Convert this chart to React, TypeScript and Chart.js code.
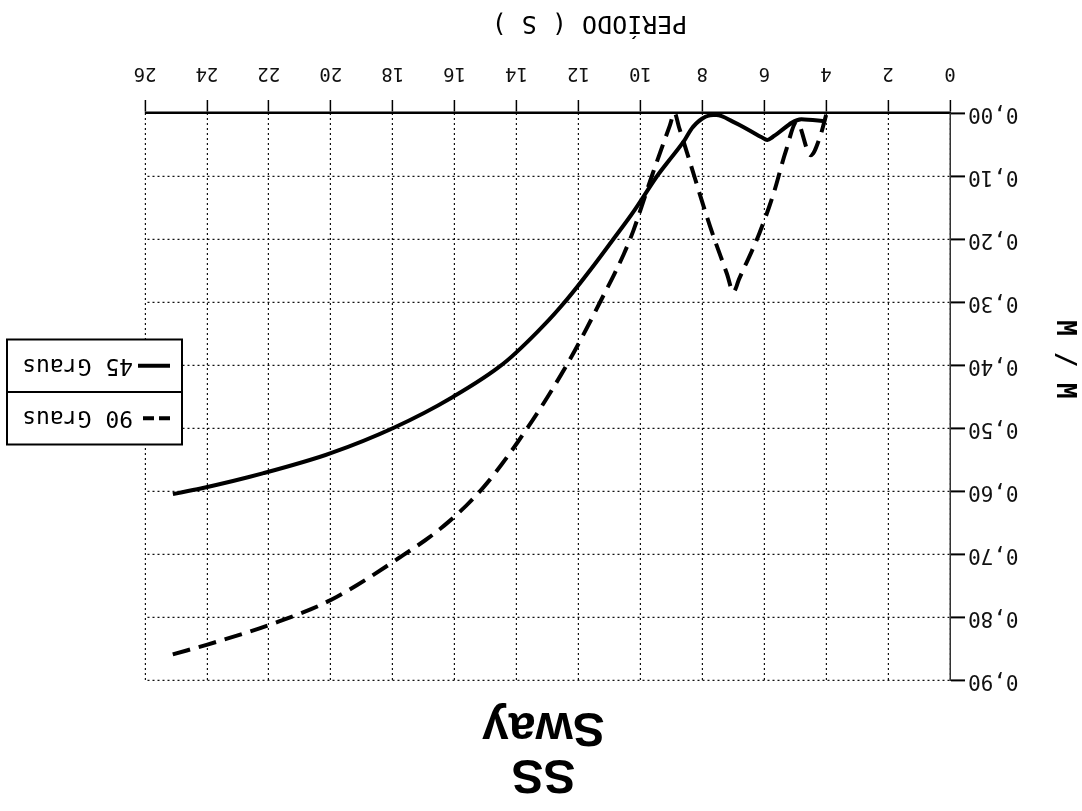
import React, { useEffect, useRef } from 'react';
import { Chart, registerables } from 'chart.js';

Chart.register(...registerables);

// ---- data ----
const titleLines = ['SS', 'Sway'];
const xTitle = 'PERÍODO ( S )';
const yTitle = 'M / M';
const xTicks = [0, 2, 4, 6, 8, 10, 12, 14, 16, 18, 20, 22, 24, 26];
const yTicks = [0, 0.1, 0.2, 0.3, 0.4, 0.5, 0.6, 0.7, 0.8, 0.9];

const label45 = '45 Graus';
const periodo45 = [4.0, 4.8, 5.7, 5.9, 6.1, 7.0, 7.55, 7.9, 8.3, 8.6, 9.46, 10.2, 10.87, 11.6, 12.39, 13.1, 14.43, 16.1, 17.98, 20.0, 22.2, 24.2, 25.1];
const mm45 = [0.013, 0.010, 0.037, 0.043, 0.038, 0.014, 0.003, 0.006, 0.022, 0.045, 0.100, 0.155, 0.200, 0.248, 0.297, 0.336, 0.398, 0.452, 0.500, 0.540, 0.572, 0.596, 0.605];

const label90 = '90 Graus';
const periodo90 = [4.0, 4.2, 4.5, 4.95, 5.3, 5.7, 6.15, 6.8, 7.0, 7.2, 7.75, 8.5, 8.75, 8.9, 9.05, 9.63, 10.33, 11.3, 12.38, 13.65, 15.05, 16.34, 17.85, 20.0, 21.83, 23.66, 25.15];
const mm90 = [0.003, 0.038, 0.067, 0.014, 0.060, 0.128, 0.190, 0.262, 0.284, 0.256, 0.180, 0.062, 0.023, 0.000, 0.020, 0.100, 0.200, 0.300, 0.400, 0.500, 0.593, 0.655, 0.708, 0.773, 0.810, 0.839, 0.860];

const legendOrder = [label90, label45];

const MONO = '"DejaVu Sans Mono", monospace';

const decorPlugin = {
  id: 'decor',
  afterDraw(chart: any) {
    const { ctx, chartArea } = chart;
    const cx = (chartArea.left + chartArea.right) / 2;
    const cy = (chartArea.top + chartArea.bottom) / 2;
    ctx.save();
    ctx.fillStyle = '#000';

    // main title
    ctx.font = 'bold 48px "Liberation Sans", Arial, sans-serif';
    ctx.textAlign = 'center';
    ctx.textBaseline = 'alphabetic';
    ctx.fillText(titleLines[0], cx + 4, 51);
    ctx.fillText(titleLines[1], cx + 4, 98);

    // x axis title
    ctx.font = '25px ' + MONO;
    ctx.textBaseline = 'middle';
    ctx.fillText(xTitle, cx - 42, 788);

    // y axis title
    ctx.save();
    ctx.translate(18, cy + 37);
    ctx.rotate(-Math.PI / 2);
    ctx.font = 'bold 26px ' + MONO;
    ctx.fillText(yTitle, 0, 0);
    ctx.restore();

    // legend
    const lx = chartArea.right - 37;
    const rx = lx + 175;
    const top = cy - 48;
    const rowH = 52.5;
    ctx.fillStyle = '#fff';
    ctx.fillRect(lx, top, rx - lx, rowH * 2);
    ctx.strokeStyle = '#000';
    ctx.lineWidth = 2;
    ctx.strokeRect(lx, top, rx - lx, rowH * 2);
    ctx.beginPath();
    ctx.moveTo(lx, top + rowH);
    ctx.lineTo(rx, top + rowH);
    ctx.stroke();
    ctx.font = '23px ' + MONO;
    ctx.textAlign = 'left';
    ctx.textBaseline = 'middle';
    legendOrder.forEach((lab, i) => {
      const y = top + rowH * i + rowH / 2;
      ctx.lineWidth = 4;
      ctx.setLineDash(lab === label90 ? [11, 5] : []);
      ctx.beginPath();
      ctx.moveTo(lx + 12, y);
      ctx.lineTo(lx + 44, y);
      ctx.stroke();
      ctx.setLineDash([]);
      ctx.fillStyle = '#000';
      ctx.fillText(lab, lx + 49, y + 1);
    });
    ctx.restore();
  },
};

export default function App() {
  const canvasRef = useRef<HTMLCanvasElement | null>(null);

  useEffect(() => {
    const canvas = canvasRef.current;
    if (!canvas) return;
    const chart = new Chart(canvas, {
      type: 'line',
      data: {
        datasets: [
          {
            label: label45,
            data: periodo45.map((x, i) => ({ x, y: mm45[i] })),
            borderColor: '#000',
            borderWidth: 4,
            pointRadius: 0,
            cubicInterpolationMode: 'monotone',
            fill: false,
          },
          {
            label: label90,
            data: periodo90.map((x, i) => ({ x, y: mm90[i] })),
            borderColor: '#000',
            borderWidth: 4,
            borderDash: [18, 9],
            pointRadius: 0,
            cubicInterpolationMode: 'monotone',
            fill: false,
          },
        ],
      },
      options: {
        responsive: false,
        animation: false,
        devicePixelRatio: 1,
        layout: { padding: { top: 131, right: 145, left: 0, bottom: 0 } },
        plugins: {
          legend: { display: false },
          title: { display: false },
          tooltip: { enabled: false },
        },
        scales: {
          x: {
            type: 'linear',
            min: 0,
            max: 26,
            afterFit: (s: any) => { s.height = 113; },
            afterBuildTicks: (s: any) => { s.ticks = xTicks.map((v) => ({ value: v })); },
            ticks: {
              color: '#111',
              font: { family: MONO, size: 19 },
              padding: 16,
              maxRotation: 0,
              autoSkip: false,
              callback: (v: any) => String(v),
            },
            grid: {
              color: '#111',
              lineWidth: 1.2,
              tickLength: 13,
              tickColor: '#000',
              tickWidth: 1.5,
              tickBorderDash: [],
            },
            border: { display: true, color: '#000', width: 2.5, dash: [2, 3] },
          },
          y: {
            type: 'linear',
            min: 0,
            max: 0.9,
            afterFit: (s: any) => { s.width = 132; },
            afterBuildTicks: (s: any) => { s.ticks = yTicks.map((v) => ({ value: v })); },
            ticks: {
              color: '#111',
              font: { family: MONO, size: 21 },
              padding: 3,
              autoSkip: false,
              callback: (v: any) => Number(v).toFixed(2).replace('.', ','),
            },
            grid: {
              color: '#111',
              lineWidth: 1.2,
              tickLength: 15,
              tickColor: '#000',
              tickWidth: 2,
              tickBorderDash: [],
            },
            border: { display: true, color: '#333', width: 1.5, dash: [2, 3] },
          },
        },
      },
      plugins: [decorPlugin],
    } as any);
    return () => chart.destroy();
  }, []);

  return (
    <div
      style={{
        position: 'fixed',
        left: 0,
        top: 0,
        width: 1082,
        height: 811,
        background: '#fff',
        transform: 'rotate(180deg)',
        transformOrigin: '50% 50%',
      }}
    >
      <canvas ref={canvasRef} width={1082} height={811} style={{ width: 1082, height: 811, display: 'block' }} />
    </div>
  );
}
